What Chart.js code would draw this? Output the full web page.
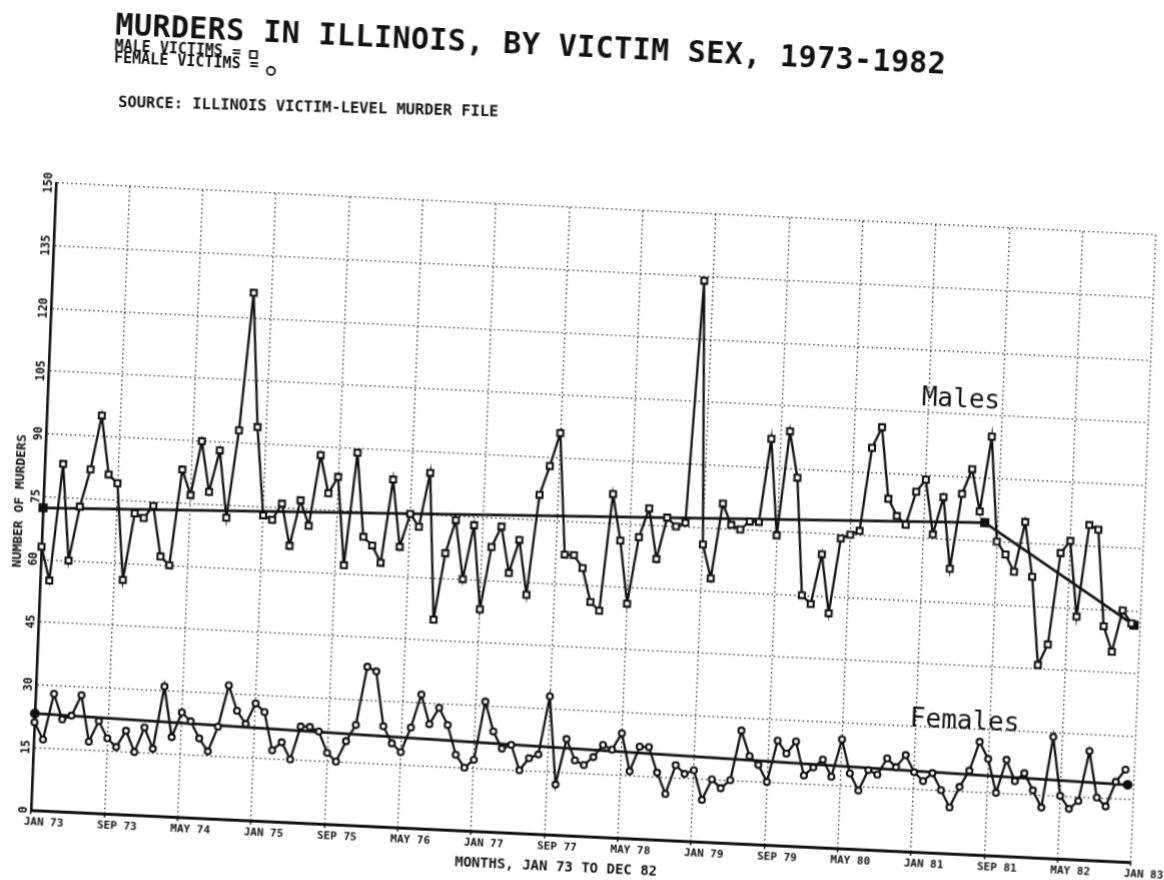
<!DOCTYPE html>
<html lang="en">
<head>
<meta charset="utf-8">
<title>Murders in Illinois, by victim sex, 1973-1982</title>
<script src="https://cdn.jsdelivr.net/npm/chart.js@4.4.0/dist/chart.umd.min.js"></script>
<style>
    html, body { margin: 0; padding: 0; background: #fff; overflow: hidden; }
    /* a folha escaneada está torta: inclina o gráfico inteiro */
    #folha {
        position: absolute; left: 0; top: 0; width: 1164px; height: 880px;
        transform-origin: 31px 810px;
        transform: matrix(1, 0.0473, -0.0399, 1, 0, 0);
    }
</style>
</head>
<body>
<div id="folha"><canvas id="graficoAssassinatos" width="1164" height="880"></canvas></div>
<script>
// 📅 Rótulos do eixo X (a cada 8 meses)
const rotulosMeses = ['JAN 73', 'SEP 73', 'MAY 74', 'JAN 75', 'SEP 75', 'MAY 76', 'JAN 77', 'SEP 77',
    'MAY 78', 'JAN 79', 'SEP 79', 'MAY 80', 'JAN 81', 'SEP 81', 'MAY 82', 'JAN 83'];

// 📏 Rótulos do eixo Y
const rotulosY = [0, 15, 30, 45, 60, 75, 90, 105, 120, 135, 150];

// 🔪 Vítimas homens por mês (jan 73 a dez 82)
const vitimasHomens = [
    63, 55, 83, 60, 73, 82, 95, 81, 79, 56, 72, 71,
    74, 62, 60, 83, 77, 90, 78, 88, 72, 93, 126, 94,
    73, 72, 76, 66, 77, 71, 88, 79, 83, 62, 89, 69,
    67, 63, 83, 67, 75, 72, 85, 50, 66, 74, 60, 73,
    53, 68, 73, 62, 70, 57, 81, 88, 96, 67, 67, 64,
    56, 54, 82, 71, 56, 72, 79, 67, 77, 75, 76, 134,
    71, 63, 81, 76, 75, 77, 77, 97, 74, 99, 88, 60,
    58, 70, 56, 74, 75, 76, 96, 101, 84, 80, 78, 86,
    89, 76, 85, 68, 86, 92, 82, 100, 75, 72, 68, 80,
    67, 46, 51, 73, 76, 58, 80, 79, 56, 50, 60, 57
];

// 🔪 Vítimas mulheres por mês
const vitimasMulheres = [
    21, 17, 28, 22, 23, 28, 17, 22, 18, 16, 20, 15,
    21, 16, 31, 19, 25, 23, 19, 16, 22, 32, 26, 23,
    28, 26, 17, 19, 15, 23, 23, 22, 17, 15, 20, 24,
    38, 37, 24, 20, 18, 24, 32, 25, 29, 25, 18, 15,
    17, 31, 24, 20, 21, 15, 18, 19, 33, 12, 23, 18,
    17, 19, 22, 21, 25, 16, 22, 22, 16, 11, 18, 16,
    17, 10, 15, 13, 15, 27, 21, 19, 15, 25, 22, 25,
    17, 19, 21, 17, 26, 18, 14, 19, 18, 22, 20, 23,
    19, 17, 19, 15, 11, 16, 20, 27, 23, 15, 23, 18,
    20, 16, 12, 29, 15, 12, 14, 26, 15, 13, 19, 22
];

// 📉 Linhas de tendência (mês, valor)
const tendenciaHomensMes = [0, 102.6, 119.3];
const tendenciaHomensValor = [72.3, 79.4, 56.6];
const tendenciaMulheresMes = [0, 119.3];
const tendenciaMulheresValor = [23.1, 18.4];

const mono = '"DejaVu Sans Mono", monospace';
const tinta = '#111';

// ✍️ Plugin para os textos do papel (título, legenda, eixos, rótulos)
const textosDoPapel = {
    id: 'textosDoPapel',
    afterDraw(chart) {
        const ctx = chart.ctx;
        const escalaX = chart.scales.x;
        const escalaY = chart.scales.y;
        ctx.save();
        ctx.fillStyle = tinta;
        ctx.strokeStyle = tinta;
        ctx.textAlign = 'left';
        ctx.textBaseline = 'alphabetic';

        // Título (um pouco mais espaçado, como no plotter)
        ctx.font = 'bold 30px ' + mono;
        ctx.letterSpacing = '0.4px';
        ctx.fillText('MURDERS IN ILLINOIS, BY VICTIM SEX, 1973-1982', 84, 32);
        ctx.letterSpacing = '0px';

        // Legenda com os símbolos
        ctx.font = 'bold 15px ' + mono;
        ctx.fillText('MALE VICTIMS =', 84, 48);
        let fim = 84 + ctx.measureText('MALE VICTIMS = ').width;
        ctx.lineWidth = 1.8;
        ctx.strokeRect(fim, 42, 7, 7);
        ctx.fillText('FEMALE VICTIMS =', 84, 60);
        fim = 84 + ctx.measureText('FEMALE VICTIMS = ').width;
        ctx.beginPath();
        ctx.arc(fim + 3.5, 61, 4, 0, 2 * Math.PI);
        ctx.stroke();

        // Fonte dos dados (linha menos torta que o resto)
        ctx.save();
        ctx.translate(90, 104);
        ctx.rotate(-0.022);
        ctx.font = 'bold 15.4px ' + mono;
        ctx.fillText('SOURCE: ILLINOIS VICTIM-LEVEL MURDER FILE', 0, 0);
        ctx.restore();

        // Rótulos do eixo Y, girados
        ctx.font = 'bold 11.5px ' + mono;
        ctx.textAlign = 'center';
        ctx.textBaseline = 'middle';
        rotulosY.forEach(v => {
            ctx.save();
            ctx.translate(escalaX.left - 7, escalaY.getPixelForValue(v));
            ctx.rotate(-Math.PI / 2);
            ctx.fillText(String(v), 0, 0);
            ctx.restore();
        });

        // Título do eixo Y
        ctx.font = 'bold 13px ' + mono;
        ctx.save();
        ctx.translate(8, 502);
        ctx.rotate(-Math.PI / 2);
        ctx.fillText('NUMBER OF MURDERS', 0, 0);
        ctx.restore();

        // Título do eixo X
        ctx.font = 'bold 14px ' + mono;
        ctx.textAlign = 'left';
        ctx.textBaseline = 'alphabetic';
        ctx.fillText('MONTHS, JAN 73 TO DEC 82', 456, 846);

        // Rótulos datilografados das séries
        ctx.font = '26px ' + mono;
        ctx.fillText('Males', escalaX.getPixelForValue(95.2), escalaY.getPixelForValue(106.8));
        ctx.fillText('Females', escalaX.getPixelForValue(95.3), escalaY.getPixelForValue(30));
        ctx.restore();
    }
};

// 📊 Criação do gráfico quando a página carregar
document.addEventListener('DOMContentLoaded', function () {
    const ctx = document.getElementById('graficoAssassinatos').getContext('2d');

    const serie = (valores) => valores.map((v, i) => ({ x: i, y: v }));
    const pares = (meses, valores) => meses.map((m, i) => ({ x: m, y: valores[i] }));

    new Chart(ctx, {
        type: 'line',
        data: {
            datasets: [{
                label: 'Male victims',
                data: serie(vitimasHomens),
                borderColor: tinta,
                borderWidth: 2.3,
                pointStyle: 'rect',
                pointRadius: 4.2,
                pointBackgroundColor: '#fff',
                pointBorderColor: tinta,
                pointBorderWidth: 2.1,
                tension: 0,
                clip: false
            }, {
                label: 'Female victims',
                data: serie(vitimasMulheres),
                borderColor: tinta,
                borderWidth: 2.3,
                pointStyle: 'circle',
                pointRadius: 3,
                pointBackgroundColor: '#fff',
                pointBorderColor: tinta,
                pointBorderWidth: 2.1,
                tension: 0,
                clip: false
            }, {
                label: 'Male trend',
                data: pares(tendenciaHomensMes, tendenciaHomensValor),
                borderColor: tinta,
                borderWidth: 2.8,
                pointStyle: 'rect',
                pointRadius: 4.5,
                pointBackgroundColor: tinta,
                pointBorderColor: tinta,
                tension: 0,
                clip: false
            }, {
                label: 'Female trend',
                data: pares(tendenciaMulheresMes, tendenciaMulheresValor),
                borderColor: tinta,
                borderWidth: 2.8,
                pointStyle: 'circle',
                pointRadius: 3.5,
                pointBackgroundColor: tinta,
                pointBorderColor: tinta,
                tension: 0,
                clip: false
            }]
        },
        options: {
            responsive: false,
            animation: false,
            devicePixelRatio: 1,
            events: [],
            layout: { padding: { left: 0, top: 183, right: 33, bottom: 0 } },
            plugins: {
                legend: { display: false },
                title: { display: false },
                tooltip: { enabled: false }
            },
            scales: {
                x: {
                    type: 'linear',
                    min: 0,
                    max: 120,
                    afterBuildTicks: (escala) => {
                        escala.ticks = rotulosMeses.map((r, i) => ({ value: i * 8 }));
                    },
                    afterFit: (escala) => { escala.height = 70; },
                    ticks: {
                        autoSkip: false,
                        maxRotation: 0,
                        minRotation: 0,
                        labelOffset: 13,
                        padding: 2,
                        color: tinta,
                        font: { family: mono, size: 11, weight: 'bold' },
                        callback: (v) => rotulosMeses[Math.round(v / 8)]
                    },
                    grid: {
                        color: '#222',
                        lineWidth: 1.3,
                        drawTicks: true,
                        tickLength: 4,
                        tickColor: tinta,
                        tickWidth: 1.5,
                        tickBorderDash: []
                    },
                    border: { display: true, color: tinta, width: 3, dash: [1.5, 3] }
                },
                y: {
                    min: 0,
                    max: 150,
                    afterBuildTicks: (escala) => {
                        escala.ticks = rotulosY.map(v => ({ value: v }));
                    },
                    afterFit: (escala) => { escala.width = 31; },
                    ticks: { display: false },
                    grid: {
                        color: '#222',
                        lineWidth: 1.3,
                        drawTicks: false
                    },
                    border: { display: true, color: tinta, width: 2.6, dash: [1.5, 3] }
                }
            }
        },
        plugins: [textosDoPapel]
    });
});
</script>
</body>
</html>
